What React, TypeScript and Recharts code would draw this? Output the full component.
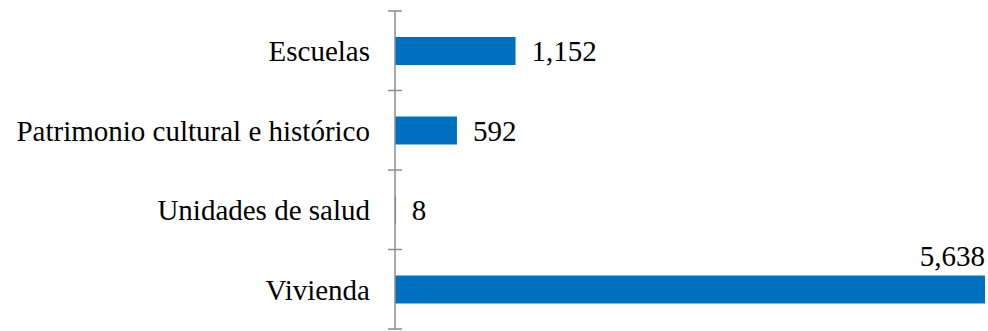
import React from 'react';
import { BarChart, Bar, XAxis, YAxis, LabelList } from 'recharts';

const categories = ['Escuelas', 'Patrimonio cultural e histórico', 'Unidades de salud', 'Vivienda'];
const values = [1152, 592, 8, 5638];

const data = categories.map((name, i) => ({ name, value: values[i] }));
const maxValue = Math.max(...values);

const FONT = 'Liberation Serif';
const FONT_SIZE = 29;
const AXIS_COLOR = '#8c8c8c';
const BAR_COLOR = '#0070C0';
const textStyle = { fontFamily: FONT, fontSize: FONT_SIZE, fill: '#000' };

const fmt = (v: number) => v.toLocaleString('en-US');

const YTick = (props: any) => {
  const { x, y, payload, index, visibleTicksCount } = props;
  const half = payload && typeof payload.offset === 'number' && payload.offset > 0 ? payload.offset : 39.75;
  const last = index === (visibleTicksCount ?? categories.length) - 1;
  return (
    <g>
      <text x={x - 25} y={y} dy="0.355em" textAnchor="end" style={textStyle}>
        {payload.value}
      </text>
      <line x1={x - 7} x2={x + 7} y1={y - half} y2={y - half} stroke={AXIS_COLOR} strokeWidth={1.5} />
      {last && <line x1={x - 7} x2={x + 7} y1={y + half} y2={y + half} stroke={AXIS_COLOR} strokeWidth={1.5} />}
    </g>
  );
};

const ValueLabel = (props: any) => {
  const { x, y, width, height, value } = props;
  const end = Number(x) + Number(width);
  if (value === maxValue) {
    return (
      <text x={end} y={Number(y) - 10} textAnchor="end" style={textStyle}>
        {fmt(value)}
      </text>
    );
  }
  return (
    <text x={end + 16} y={Number(y) + Number(height) / 2} dy="0.355em" textAnchor="start" style={textStyle}>
      {fmt(value)}
    </text>
  );
};

export default function App() {
  return (
    <div style={{ position: 'absolute', left: 0, top: 0, width: 988, height: 331, background: '#fff' }}>
      <BarChart
        width={988}
        height={331}
        data={data}
        layout="vertical"
        margin={{ top: 11, right: 3, bottom: 2, left: 0 }}
      >
        <XAxis type="number" hide domain={[0, maxValue]} />
        <YAxis
          type="category"
          dataKey="name"
          width={395}
          tickLine={false}
          tickSize={0}
          tickMargin={0}
          axisLine={{ stroke: AXIS_COLOR, strokeWidth: 1.5 }}
          tick={<YTick />}
          interval={0}
        />
        <Bar dataKey="value" fill={BAR_COLOR} barSize={28} isAnimationActive={false}>
          <LabelList dataKey="value" content={<ValueLabel />} />
        </Bar>
      </BarChart>
    </div>
  );
}
